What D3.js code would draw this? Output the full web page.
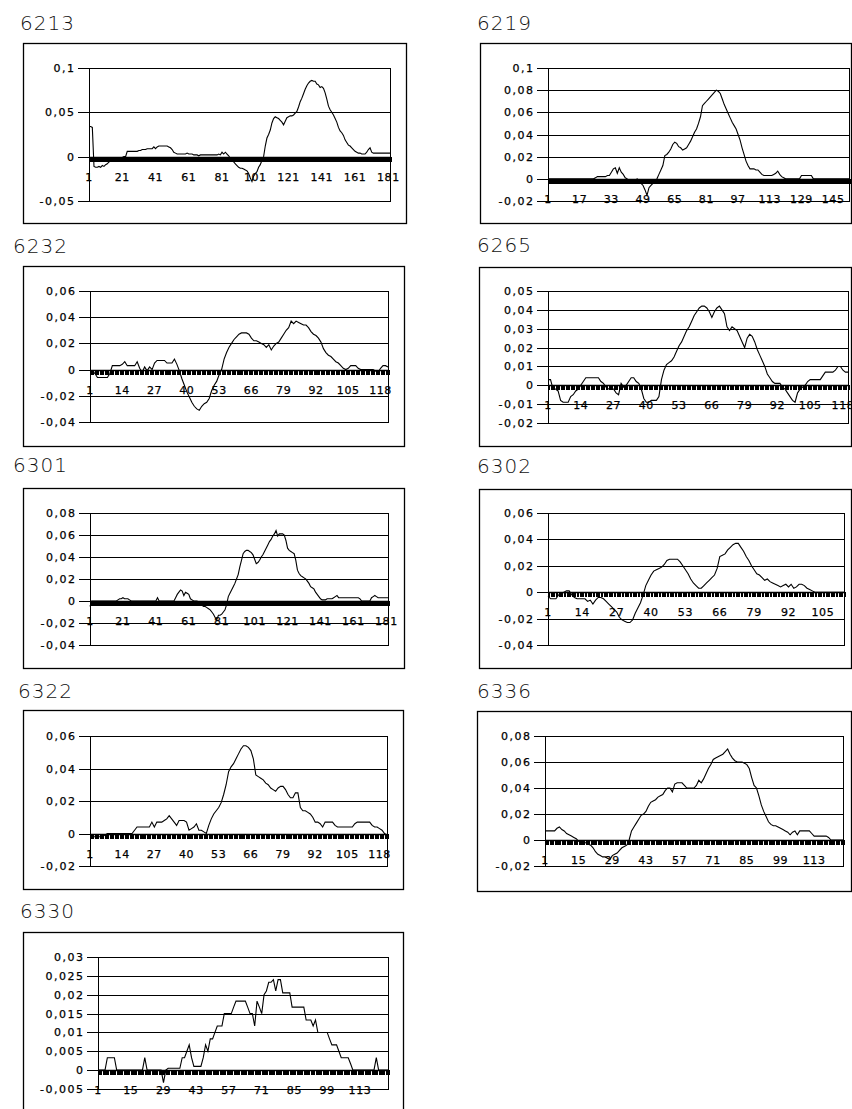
<!DOCTYPE html>
<html>
<head>
<meta charset="utf-8">
<script src="https://cdn.jsdelivr.net/npm/d3@7"></script>
<style>
  body { margin: 0; background: #fff; }
  svg { display: block; }
  .title { font-family: "DejaVu Sans", sans-serif; font-size: 20px; font-weight: 300; fill: #111; letter-spacing: 1px; }
  .tick text { font-family: "DejaVu Sans", sans-serif; font-size: 11px; fill: #000; stroke: #000; stroke-width: 0.25px; letter-spacing: 1.5px; }
  .xlab { font-family: "DejaVu Sans", sans-serif; font-size: 11px; fill: #000; stroke: #000; stroke-width: 0.25px; letter-spacing: 0.6px; }
</style>
</head>
<body>
<div id="charts"></div>
<script>
// panel names, in reading order
const ids = ["6213", "6219", "6232", "6265", "6301", "6302", "6322", "6336", "6330"];

// one value per category (category 1 .. n)
const s6213 = [
  0.034,0.034,0.033,-0.011,-0.012,-0.012,-0.011,-0.012,-0.01,-0.011,
  -0.009,-0.008,-0.006,-0.005,-0.004,-0.003,-0.002,-0.002,-0.001,-0.001,
  -0.001,0,0,0.006,0.006,0.006,0.006,0.006,0.006,0.006,
  0.007,0.007,0.008,0.008,0.008,0.009,0.009,0.009,0.009,0.011,
  0.009,0.011,0.012,0.012,0.012,0.012,0.012,0.012,0.011,0.01,
  0.008,0.005,0.004,0.003,0.003,0.003,0.003,0.003,0.003,0.004,
  0.003,0.003,0.003,0.002,0.002,0.002,0.001,0.002,0.002,0.002,
  0.002,0.002,0.002,0.002,0.002,0.002,0.002,0.002,0.003,0.002,
  0.005,0.003,0.005,0.003,0.001,-0.002,-0.004,-0.006,-0.008,-0.01,
  -0.012,-0.013,-0.013,-0.014,-0.015,-0.016,-0.019,-0.024,-0.028,-0.022,
  -0.019,-0.017,-0.012,-0.009,-0.004,0,0.012,0.021,0.025,0.03,
  0.038,0.043,0.045,0.044,0.043,0.041,0.039,0.036,0.04,0.044,
  0.045,0.046,0.046,0.047,0.049,0.051,0.056,0.062,0.066,0.071,
  0.076,0.08,0.083,0.085,0.086,0.085,0.085,0.082,0.081,0.078,
  0.079,0.077,0.072,0.065,0.057,0.053,0.05,0.047,0.043,0.039,
  0.033,0.029,0.027,0.024,0.019,0.016,0.013,0.012,0.01,0.008,
  0.006,0.005,0.004,0.004,0.003,0.003,0.003,0.005,0.008,0.01,
  0.005,0.004,0.004,0.004,0.004,0.004,0.004,0.004,0.004,0.004,
  0.004,0.004
];

const s6219 = [
  0,0,0,0,0,0,0,0,0,0,
  0,0,0,0,0,0,0,0,0,0,
  0,0,0,0,0.001,0.002,0.002,0.002,0.002,0.002,
  0.003,0.003,0.006,0.009,0.01,0.005,0.01,0.006,0.004,0.001,
  0,-0.003,-0.003,-0.003,-0.002,0,-0.002,-0.004,-0.006,-0.01,
  -0.015,-0.008,-0.006,-0.004,-0.002,0,0.004,0.008,0.012,0.021,
  0.022,0.024,0.027,0.031,0.033,0.032,0.029,0.028,0.026,0.027,
  0.028,0.031,0.034,0.038,0.042,0.045,0.05,0.056,0.066,0.068,
  0.07,0.072,0.074,0.076,0.078,0.08,0.079,0.077,0.072,0.067,
  0.063,0.059,0.055,0.051,0.048,0.045,0.04,0.035,0.028,0.022,
  0.016,0.012,0.009,0.009,0.009,0.008,0.008,0.006,0.004,0.003,
  0.003,0.003,0.003,0.003,0.004,0.005,0.007,0.004,0.002,0.001,
  0,0,0,0,0,0,0,0,0.003,0.003,
  0.003,0.003,0.003,0.003,0,0,0,0,0,0,
  0,0,0,0,0,0,0,0,0,0,
  0,0,0
];

const s6232 = [
  -0.001,-0.001,-0.003,-0.006,-0.006,-0.006,-0.006,-0.006,-0.003,0.003,
  0.003,0.003,0.003,0.004,0.006,0.003,0.003,0.003,0.003,0.006,
  0.001,-0.002,0.002,-0.001,0.002,0,0.005,0.007,0.007,0.007,
  0.007,0.005,0.005,0.005,0.008,0.004,-0.001,-0.007,-0.012,-0.017,
  -0.021,-0.025,-0.028,-0.03,-0.031,-0.028,-0.026,-0.025,-0.022,-0.016,
  -0.012,-0.009,-0.004,0,0.008,0.013,0.017,0.02,0.023,0.025,
  0.027,0.028,0.028,0.028,0.027,0.024,0.022,0.022,0.021,0.02,
  0.019,0.017,0.019,0.015,0.018,0.02,0.021,0.024,0.027,0.03,
  0.032,0.037,0.035,0.037,0.036,0.035,0.034,0.034,0.032,0.029,
  0.027,0.026,0.024,0.021,0.016,0.013,0.011,0.01,0.008,0.006,
  0.005,0.003,0.001,0,0.001,0.003,0.003,0.003,0.001,0,
  0,0,0,0,0,-0.001,-0.002,0.001,0.003,0.003,
  0.002
];

const s6265 = [
  0.003,0.003,-0.002,-0.002,-0.003,-0.008,-0.009,-0.009,-0.009,-0.006,
  -0.005,-0.003,-0.002,0,0.002,0.004,0.004,0.004,0.004,0.004,
  0.004,0.002,0.001,-0.001,-0.002,-0.002,-0.002,-0.004,-0.005,0.001,
  -0.001,0,0.002,0.004,0.004,0.002,0.001,-0.002,-0.007,-0.009,
  -0.009,-0.008,-0.008,-0.008,-0.006,0.003,0.008,0.011,0.012,0.013,
  0.015,0.018,0.021,0.023,0.026,0.029,0.031,0.034,0.037,0.039,
  0.041,0.042,0.042,0.041,0.039,0.036,0.039,0.041,0.042,0.04,
  0.038,0.031,0.029,0.031,0.03,0.029,0.026,0.023,0.02,0.025,
  0.027,0.026,0.023,0.019,0.016,0.013,0.01,0.006,0.004,0.002,
  0.001,0.001,0.001,-0.001,-0.002,-0.004,-0.006,-0.008,-0.009,-0.004,
  -0.002,-0.001,0,0.002,0.003,0.003,0.003,0.003,0.003,0.005,
  0.007,0.007,0.007,0.007,0.008,0.01,0.01,0.008,0.007,0.007
];

const s6301 = [
  -0.005,0,0,0,0,0,0,0,0,0,
  0,0,0,0,0,0,0,0.001,0.002,0.002,
  0.003,0.002,0.002,0.002,0.001,0,0,0,0,0,
  0,0,0,0,0,0,0,0,0,0,
  0,0.003,0,0,0,0,0,0,0,0,
  0,0,0.003,0.006,0.008,0.01,0.009,0.005,0.008,0.007,
  0.006,0.002,0.001,0,0,0,-0.001,-0.003,-0.004,-0.005,
  -0.005,-0.006,-0.007,-0.008,-0.01,-0.012,-0.015,-0.017,-0.013,-0.013,
  -0.012,-0.01,-0.008,-0.003,0.004,0.007,0.01,0.013,0.016,0.02,
  0.024,0.031,0.037,0.043,0.045,0.046,0.046,0.045,0.044,0.042,
  0.038,0.034,0.035,0.037,0.04,0.042,0.045,0.048,0.051,0.054,
  0.056,0.059,0.061,0.064,0.059,0.061,0.061,0.061,0.06,0.055,
  0.048,0.046,0.045,0.044,0.043,0.037,0.028,0.025,0.023,0.022,
  0.021,0.02,0.018,0.016,0.013,0.012,0.011,0.008,0.006,0.004,
  0.002,0.001,0.001,0.001,0.002,0.002,0.002,0.002,0.003,0.004,
  0.005,0.003,0.003,0.003,0.003,0.003,0.003,0.003,0.003,0.003,
  0.003,0.003,0.003,0.003,0.002,0,0,0,0,0,
  0,0.003,0.004,0.005,0.004,0.003,0.003,0.003,0.003,0.003,
  0.003,0.003
];

const s6302 = [
  -0.003,-0.005,-0.005,-0.005,-0.002,-0.001,0,0.001,0.001,-0.002,
  -0.004,-0.005,-0.005,-0.005,-0.005,-0.007,-0.006,-0.009,-0.006,-0.004,
  -0.004,-0.005,-0.007,-0.009,-0.011,-0.013,-0.015,-0.019,-0.021,-0.022,
  -0.023,-0.023,-0.021,-0.016,-0.012,-0.008,-0.002,0.005,0.009,0.013,
  0.016,0.017,0.018,0.019,0.021,0.024,0.025,0.025,0.025,0.025,
  0.023,0.02,0.017,0.014,0.01,0.007,0.005,0.003,0.003,0.005,
  0.007,0.009,0.011,0.013,0.018,0.027,0.028,0.029,0.032,0.034,
  0.036,0.037,0.037,0.034,0.031,0.027,0.024,0.02,0.017,0.014,
  0.013,0.011,0.009,0.01,0.008,0.007,0.006,0.005,0.004,0.005,
  0.006,0.004,0.006,0.003,0.004,0.006,0.006,0.005,0.003,0.002,
  0.001,0,0,0,0,0,0,0,0,0,
  0,0,0
];

const s6322 = [
  -0.002,-0.002,-0.002,-0.002,-0.002,-0.002,-0.001,0,0,0,
  0,0,0,0,0,0,0,0,0.002,0.004,
  0.004,0.004,0.004,0.004,0.004,0.007,0.004,0.007,0.007,0.007,
  0.008,0.009,0.011,0.009,0.007,0.005,0.008,0.008,0.008,0.007,
  0.002,0.003,0.004,0.006,0.002,0.002,0.001,0,0.005,0.009,
  0.012,0.014,0.016,0.019,0.024,0.03,0.038,0.041,0.043,0.046,
  0.049,0.052,0.054,0.054,0.053,0.051,0.046,0.036,0.035,0.034,
  0.033,0.031,0.03,0.028,0.027,0.026,0.028,0.029,0.029,0.027,
  0.024,0.022,0.022,0.025,0.025,0.016,0.014,0.014,0.013,0.012,
  0.01,0.007,0.007,0.006,0.004,0.007,0.007,0.007,0.007,0.005,
  0.004,0.004,0.004,0.004,0.004,0.004,0.004,0.006,0.007,0.007,
  0.007,0.007,0.007,0.007,0.005,0.004,0.004,0.003,0.002,0,
  -0.001
];

const s6336 = [
  0.007,0.007,0.007,0.007,0.007,0.009,0.01,0.008,0.007,0.005,
  0.004,0.003,0.002,0.001,-0.001,-0.002,-0.003,-0.002,-0.003,-0.004,
  -0.006,-0.009,-0.011,-0.012,-0.013,-0.013,-0.014,-0.015,-0.012,-0.011,
  -0.01,-0.008,-0.006,-0.005,-0.004,0,0.007,0.01,0.013,0.016,
  0.019,0.02,0.022,0.026,0.029,0.03,0.031,0.033,0.034,0.035,
  0.038,0.04,0.04,0.037,0.043,0.044,0.044,0.044,0.042,0.04,
  0.04,0.04,0.04,0.042,0.046,0.044,0.047,0.051,0.055,0.058,
  0.062,0.063,0.064,0.065,0.066,0.068,0.07,0.066,0.063,0.061,
  0.06,0.06,0.06,0.059,0.058,0.055,0.048,0.042,0.04,0.034,
  0.027,0.022,0.018,0.014,0.012,0.011,0.011,0.01,0.009,0.008,
  0.007,0.006,0.004,0.006,0.007,0.004,0.007,0.007,0.007,0.007,
  0.007,0.005,0.003,0.003,0.003,0.003,0.003,0.003,0.002,0,
  0,0,0,0,0
];

const s6330 = [
  0,0,0,0,0.0033,0.0033,0.0033,0.0033,0,0,
  0,0,0,0,0,0,0,0,0,0,
  0.0033,0,0,0,0,0,0,0,-0.0033,0,
  0.0005,0.0005,0.0005,0.0005,0.0005,0.0005,0.0033,0.0033,0.005,0.0067,
  0.0033,0.001,0.001,0.001,0.001,0.0033,0.0067,0.005,0.0083,0.0083,
  0.01,0.0117,0.0117,0.0117,0.015,0.015,0.015,0.015,0.0167,0.0183,
  0.0183,0.0183,0.0183,0.0183,0.0167,0.015,0.015,0.0117,0.0183,0.0167,
  0.015,0.02,0.021,0.0233,0.0233,0.024,0.021,0.024,0.024,0.0205,
  0.0205,0.0205,0.0205,0.0167,0.0167,0.0167,0.0167,0.0167,0.0167,0.0133,
  0.0133,0.0133,0.0117,0.0133,0.01,0.01,0.01,0.01,0.01,0.0083,
  0.0067,0.0067,0.0067,0.005,0.0033,0.0033,0.0033,0.0033,0.0017,0,
  0,0,0,0,0,0,0,0,0,0.0033,
  0,0,0,0,0
];

// value-axis tick labels
const yTicks6213 = [-0.05, 0, 0.05, 0.1];
const yTicks6219 = [-0.02, 0, 0.02, 0.04, 0.06, 0.08, 0.1];
const yTicks6232 = [-0.04, -0.02, 0, 0.02, 0.04, 0.06];
const yTicks6265 = [-0.02, -0.01, 0, 0.01, 0.02, 0.03, 0.04, 0.05];
const yTicks6301 = [-0.04, -0.02, 0, 0.02, 0.04, 0.06, 0.08];
const yTicks6302 = [-0.04, -0.02, 0, 0.02, 0.04, 0.06];
const yTicks6322 = [-0.02, 0, 0.02, 0.04, 0.06];
const yTicks6336 = [-0.02, 0, 0.02, 0.04, 0.06, 0.08];
const yTicks6330 = [-0.005, 0, 0.005, 0.01, 0.015, 0.02, 0.025, 0.03];

// category labels are shown every k categories starting at 1
const xLabelStep = [20, 16, 13, 13, 20, 13, 13, 14, 14];

const series = [s6213, s6219, s6232, s6265, s6301, s6302, s6322, s6336, s6330];
const yTicks = [yTicks6213, yTicks6219, yTicks6232, yTicks6265, yTicks6301, yTicks6302, yTicks6322, yTicks6336, yTicks6330];

// page layout: outer box, plot area [x0,y0,x1,y1], title position
const layout = [
  {box: [23, 43, 406, 223],  plot: [89, 68, 390, 201],   title: [20, 30]},
  {box: [480, 43, 851, 223], plot: [548, 68, 849, 201],  title: [477, 30]},
  {box: [23, 266, 404, 446], plot: [90, 291, 388, 422],  title: [13, 253]},
  {box: [479, 267, 851, 446],plot: [548, 291, 848, 423], title: [477, 252]},
  {box: [23, 488, 404, 668], plot: [90, 513, 388, 645],  title: [13, 472]},
  {box: [479, 489, 851, 668],plot: [548, 513, 844, 645], title: [477, 473]},
  {box: [23, 710, 403, 889], plot: [90, 736, 387, 866],  title: [18, 698]},
  {box: [477, 711, 851, 891],plot: [545, 736, 843, 866], title: [477, 698]},
  {box: [23, 932, 403, 1125],plot: [98, 957, 388, 1089], title: [20, 918]}
];

const width = 852, height = 1109;

const svg = d3.select("#charts")
    .append("svg")
    .attr("width", width)
    .attr("height", height);

const locale = d3.formatLocale({decimal: ",", thousands: ".", grouping: [3], currency: ["", ""], minus: "-"});
const fmt = locale.format("~g");

const px = v => Math.round(v) + 0.5;

ids.forEach((id, k) => {
    const L = layout[k];
    const values = series[k];
    const n = values.length;
    const ticks = yTicks[k];
    const g = svg.append("g");

    g.append("text")
        .attr("class", "title")
        .attr("x", L.title[0])
        .attr("y", L.title[1])
        .text(id);

    // outer chart border
    g.append("rect")
        .attr("x", L.box[0] + 0.5)
        .attr("y", L.box[1] + 0.5)
        .attr("width", L.box[2] - L.box[0])
        .attr("height", L.box[3] - L.box[1])
        .attr("fill", "none")
        .attr("stroke", "#000")
        .attr("stroke-width", 1.3);

    const x = d3.scaleLinear().domain([1, n]).range([L.plot[0], L.plot[2]]);
    const y = d3.scaleLinear().domain(d3.extent(ticks)).range([L.plot[3], L.plot[1]]);

    // gridlines
    g.append("g")
        .selectAll("line")
        .data(ticks)
        .join("line")
        .attr("x1", L.plot[0]).attr("x2", L.plot[2])
        .attr("y1", d => px(y(d))).attr("y2", d => px(y(d)))
        .attr("stroke", "#000")
        .attr("shape-rendering", "crispEdges");

    // y axis
    g.append("g")
        .attr("transform", `translate(${px(L.plot[0])},0)`)
        .call(d3.axisLeft(y).tickValues(ticks).tickSize(12).tickPadding(2).tickFormat(fmt))
        .call(a => a.select(".domain").remove())
        .call(a => a.selectAll("line").attr("shape-rendering", "crispEdges"));

    // plot area frame
    g.append("rect")
        .attr("x", px(L.plot[0])).attr("y", px(L.plot[1]))
        .attr("width", Math.round(L.plot[2]) - Math.round(L.plot[0]))
        .attr("height", Math.round(L.plot[3]) - Math.round(L.plot[1]))
        .attr("fill", "none")
        .attr("stroke", "#000")
        .attr("shape-rendering", "crispEdges");

    const y0 = px(y(0));

    // category labels
    g.append("g")
        .selectAll("text")
        .data(d3.range(1, n + 1, xLabelStep[k]))
        .join("text")
        .attr("class", "xlab")
        .attr("x", d => x(d))
        .attr("y", y0 + 20)
        .attr("text-anchor", "middle")
        .attr("dominant-baseline", "central")
        .text(d => d);

    // the data line
    const line = d3.line()
        .x((d, i) => x(i + 1))
        .y(d => y(d));

    g.append("path")
        .datum(values)
        .attr("d", line)
        .attr("fill", "none")
        .attr("stroke", "#000")
        .attr("stroke-width", 1.1);

    // category axis on zero with a tick per category
    g.append("line")
        .attr("x1", L.plot[0]).attr("x2", L.plot[2])
        .attr("y1", y0).attr("y2", y0)
        .attr("stroke", "#000")
        .attr("stroke-width", 1.5);

    g.append("g")
        .selectAll("line")
        .data(d3.range(1, n + 1))
        .join("line")
        .attr("x1", d => Math.round(x(d)) + 1).attr("x2", d => Math.round(x(d)) + 1)
        .attr("y1", y0 - 0.5).attr("y2", y0 + 4)
        .attr("stroke", "#000")
        .attr("stroke-width", 2)
        .attr("shape-rendering", "crispEdges");
});
</script>
</body>
</html>
